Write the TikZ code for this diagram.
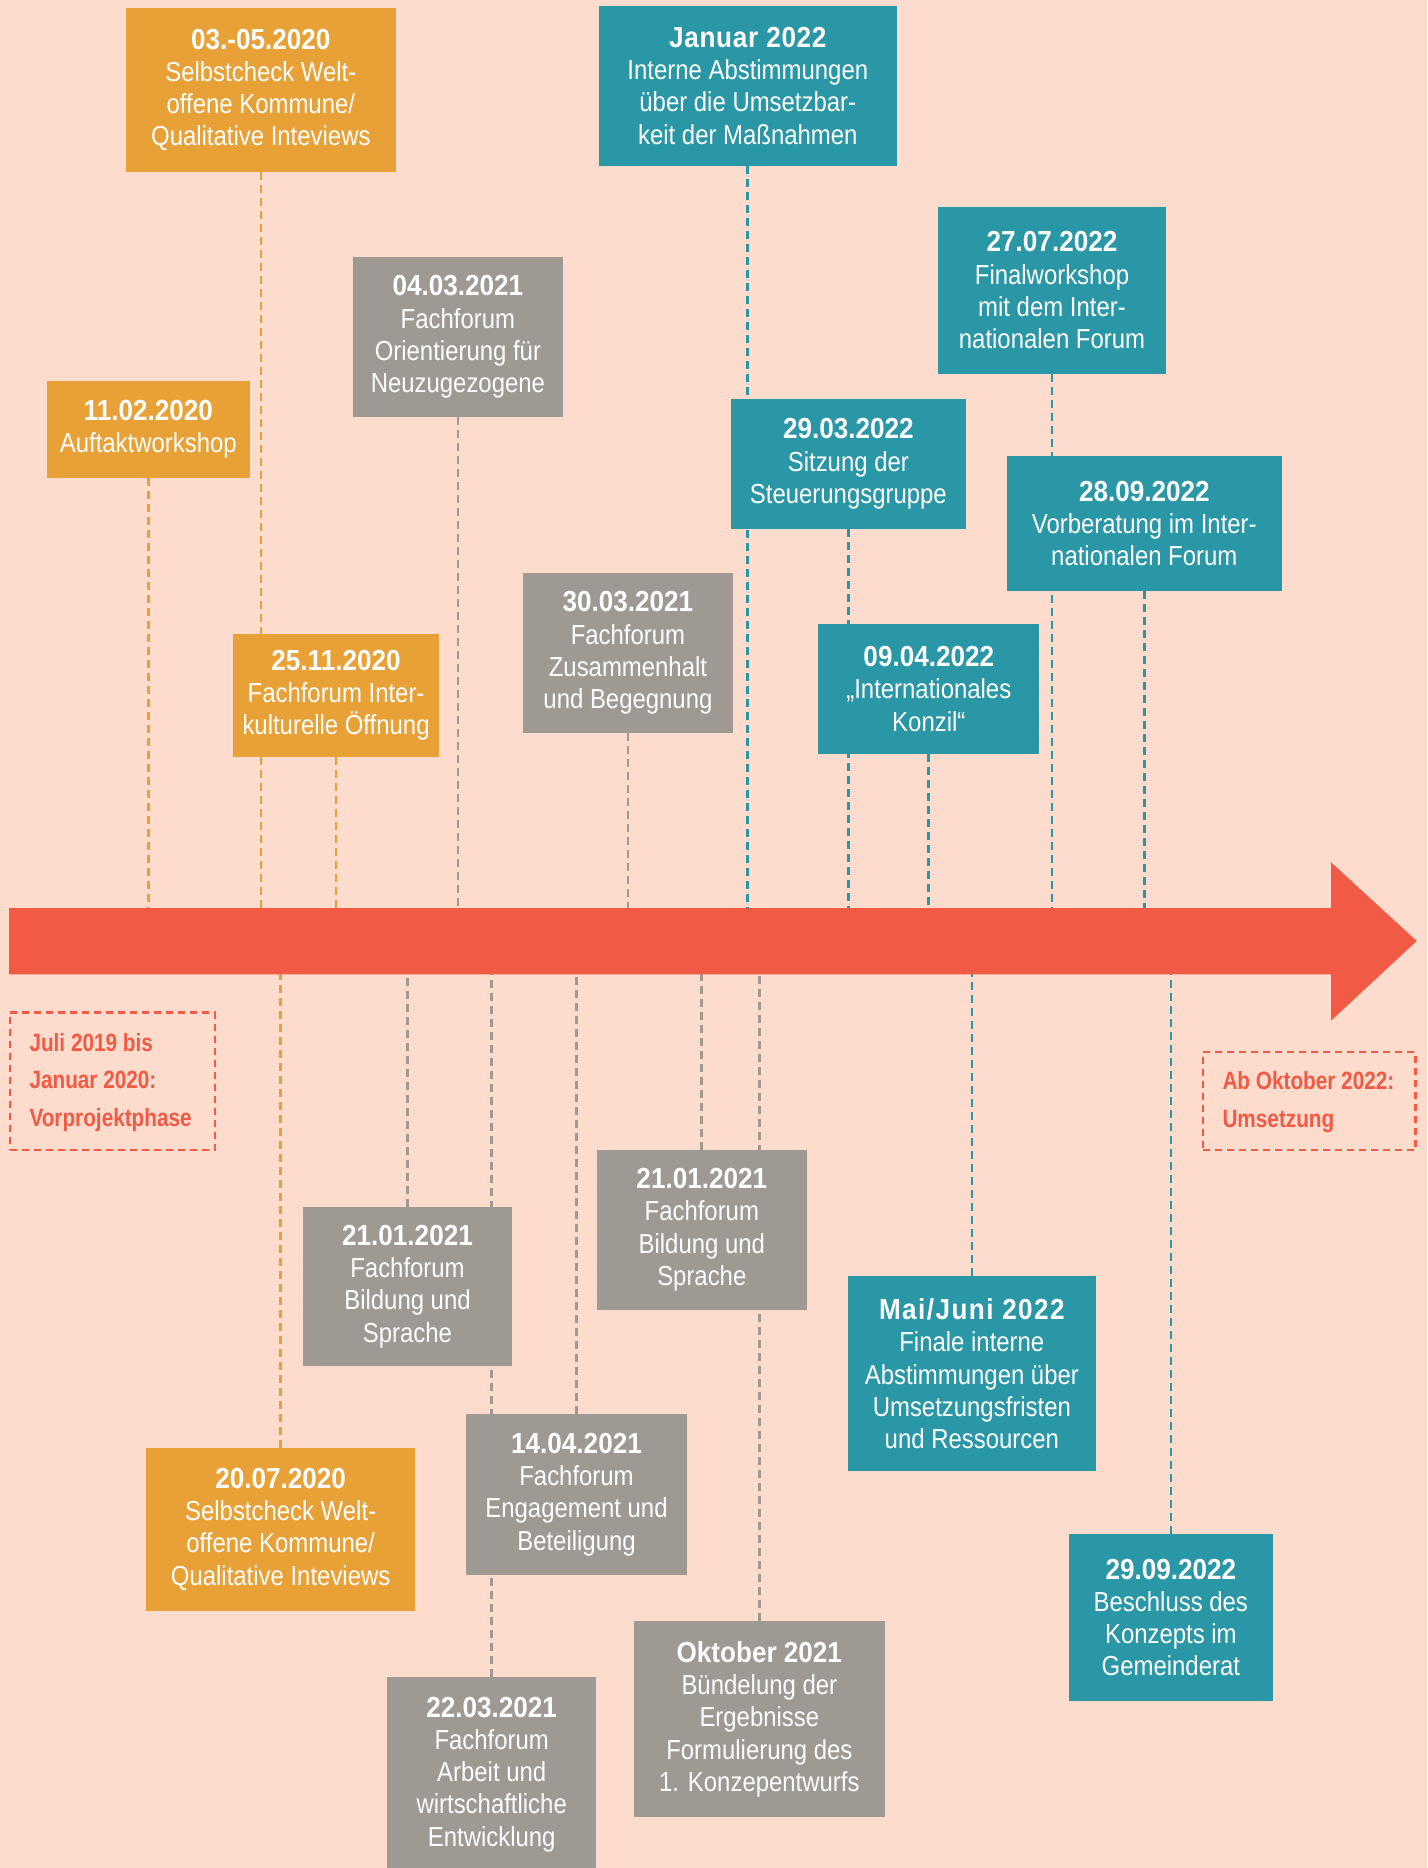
\documentclass[tikz,border=0pt]{standalone}
\usepackage{fontspec}
\setmainfont{Liberation Sans}[FakeStretch=0.87]
\newfontfamily\datefont{Liberation Sans}[FakeStretch=0.9]
\newfontfamily\phasefont{Liberation Sans}[FakeStretch=0.83]
\definecolor{cBg}{HTML}{FDDBCD}
\definecolor{cOr}{HTML}{E8A136}
\definecolor{cGr}{HTML}{9E9992}
\definecolor{cTe}{HTML}{2997A6}
\definecolor{cRe}{HTML}{F15B46}
\pgfdeclarelayer{bg}
\pgfsetlayers{bg,main}
\newcommand\dt[1]{{\datefont\bfseries\fontsize{29}{32.2}\selectfont #1}}
\newcommand\dtsp[2]{{\datefont\bfseries\fontsize{29}{32.2}\selectfont\addfontfeature{LetterSpace=#1}#2}}
\newcommand\phasetext[2]{\makebox[#1][l]{\begin{tabular}{@{}l@{}}#2\end{tabular}}}
\tikzset{
  box/.style={inner sep=0pt, align=center, text=white, font=\fontsize{27.5}{32.2}\selectfont},
  obox/.style={box, fill=cOr},
  gbox/.style={box, fill=cGr},
  tbox/.style={box, fill=cTe},
  conn/.style={line width=2.7pt, dash pattern=on 8pt off 5pt},
  phasebox/.style={draw=cRe, line width=2.7pt, dash pattern=on 7pt off 5pt, text=cRe,
    inner xsep=19.5pt, inner ysep=0pt,
    font=\phasefont\bfseries\fontsize{25}{37.6}\selectfont},
  bararrow/.style={fill=cRe}
}
\begin{document}
\begin{tikzpicture}[x=1pt,y=-1pt]
\useasboundingbox (0,0) rectangle (1427,1868);
\clip (0,0) rectangle (1427,1868);
\coordinate (bartop) at (0,908);
\coordinate (barbot) at (0,974.3);
% timeline arrow
\fill[bararrow] (9,908) -- (1331,908) -- (1331,862.3) -- (1416.7,941) -- (1331,1020.7) -- (1331,974.3) -- (9,974.3) -- cycle;
% boxes above
\node[obox, minimum width=269.7pt, minimum height=164pt] (n0305) at (260.85,90) {\dt{03.-05.2020}\\Selbstcheck Welt-\\offene Kommune/\\Qualitative Inteviews};
\node[obox, minimum width=202.4pt, minimum height=96.7pt] (n1102) at (148.3,429.35) {\dt{11.02.2020}\\Auftaktworkshop};
\node[gbox, minimum width=209.4pt, minimum height=159.4pt] (n0403) at (457.9,337) {\dt{04.03.2021}\\Fachforum\\Orientierung für\\Neuzugezogene};
\node[obox, minimum width=206.7pt, minimum height=122.7pt] (n2511) at (336.05,695.35) {\dt{25.11.2020}\\Fachforum Inter-\\kulturelle Öffnung};
\node[gbox, minimum width=209.5pt, minimum height=159.7pt] (n3003) at (627.95,652.85) {\dt{30.03.2021}\\Fachforum\\Zusammenhalt\\und Begegnung};
\node[tbox, minimum width=298pt, minimum height=159.6pt] (njan) at (747.8,85.9) {\dtsp{2.5}{Januar 2022}\\Interne Abstimmungen\\über die Umsetzbar-\\keit der Maßnahmen};
\node[tbox, minimum width=228pt, minimum height=166.5pt] (n2707) at (1052,290.25) {\dt{27.07.2022}\\Finalworkshop\\mit dem Inter-\\nationalen Forum};
\node[tbox, minimum width=234.7pt, minimum height=129.5pt] (n2903) at (848.35,463.75) {\dt{29.03.2022}\\Sitzung der\\Steuerungsgruppe};
\node[tbox, minimum width=274.6pt, minimum height=134.5pt] (n2809) at (1144.3,523.25) {\dt{28.09.2022}\\Vorberatung im Inter-\\nationalen Forum};
\node[tbox, minimum width=221pt, minimum height=129.7pt] (n0904) at (928.8,688.85) {\dt{09.04.2022}\\„Internationales\\Konzil“};
% boxes below
\node[obox, minimum width=269.3pt, minimum height=163.3pt] (n2007) at (280.65,1529.35) {\dt{20.07.2020}\\Selbstcheck Welt-\\offene Kommune/\\Qualitative Inteviews};
\node[gbox, minimum width=209pt, minimum height=159.6pt] (n2101a) at (407.5,1286.6) {\dt{21.01.2021}\\Fachforum\\Bildung und\\Sprache};
\node[gbox, minimum width=209.4pt, minimum height=195pt] (n2203) at (491.7,1774.5) {\dt{22.03.2021}\\Fachforum\\Arbeit und\\wirtschaftliche\\Entwicklung};
\node[gbox, minimum width=221.4pt, minimum height=161pt] (n1404) at (576.5,1494.5) {\dt{14.04.2021}\\Fachforum\\Engagement und\\Beteiligung};
\node[gbox, minimum width=209.6pt, minimum height=159.6pt] (n2101b) at (701.8,1229.8) {\dt{21.01.2021}\\Fachforum\\Bildung und\\Sprache};
\node[gbox, minimum width=250.7pt, minimum height=196.4pt] (nokt) at (759.35,1719.2) {\dt{Oktober 2021}\\Bündelung der\\Ergebnisse\\Formulierung des\\1. Konzepentwurfs};
\node[tbox, minimum width=247.7pt, minimum height=195.3pt] (nmai) at (971.85,1373.65) {\dtsp{5}{Mai/Juni 2022}\\Finale interne\\Abstimmungen über\\Umsetzungsfristen\\und Ressourcen};
\node[tbox, minimum width=203.7pt, minimum height=166.7pt] (n2909) at (1170.85,1617.35) {\dt{29.09.2022}\\Beschluss des\\Konzepts im\\Gemeinderat};
% phase labels
\node[phasebox, minimum height=137.3pt] (pre) at (112.5,1081.35) {\phasetext{166pt}{Juli 2019 bis\\Januar 2020:\\Vorprojektphase}};
\node[phasebox, minimum height=98pt] (post) at (1309.35,1101) {\phasetext{173.7pt}{Ab Oktober 2022:\\Umsetzung}};
% connectors
\begin{pgfonlayer}{bg}
\fill[cBg] (0,0) rectangle (1427,1868);
\draw[conn, cOr] (n1102.south) -- (n1102.south |- bartop);
\draw[conn, cOr] (n0305.south) -- (n0305.south |- bartop);
\draw[conn, cOr] (n2511.south) -- (n2511.south |- bartop);
\draw[conn, cGr] (n0403.south) -- (n0403.south |- bartop);
\draw[conn, cGr] (n3003.south) -- (n3003.south |- bartop);
\draw[conn, cTe] (njan.south) -- (njan.south |- bartop);
\draw[conn, cTe] (n2903.south) -- (n2903.south |- bartop);
\draw[conn, cTe] (n0904.south) -- (n0904.south |- bartop);
\draw[conn, cTe] (n2707.south) -- (n2707.south |- bartop);
\draw[conn, cTe] (n2809.south) -- (n2809.south |- bartop);
\draw[conn, cOr] (n2007.north) -- (n2007.north |- barbot);
\draw[conn, cGr] (n2101a.north) -- (n2101a.north |- barbot);
\draw[conn, cGr] (n2203.north) -- (n2203.north |- barbot);
\draw[conn, cGr] (n1404.north) -- (n1404.north |- barbot);
\draw[conn, cGr] (n2101b.north) -- (n2101b.north |- barbot);
\draw[conn, cGr] (nokt.north) -- (nokt.north |- barbot);
\draw[conn, cTe] (nmai.north) -- (nmai.north |- barbot);
\draw[conn, cTe] (n2909.north) -- (n2909.north |- barbot);
\end{pgfonlayer}
\end{tikzpicture}
\end{document}
